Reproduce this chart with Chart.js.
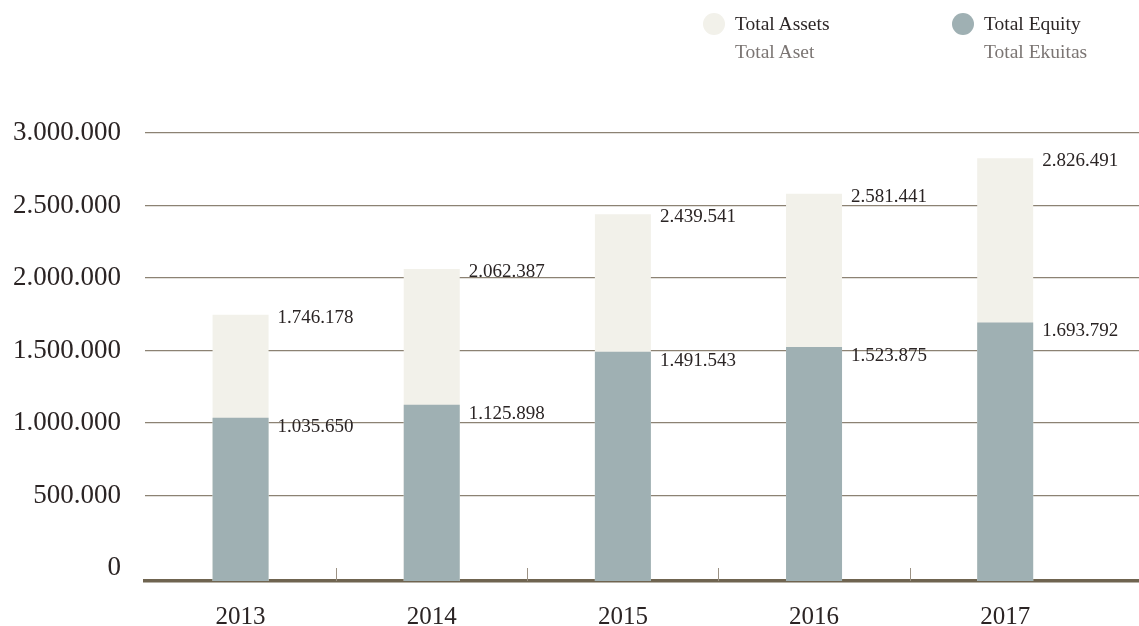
<!DOCTYPE html>
<html>
<head>
<meta charset="utf-8">
<script src="https://cdn.jsdelivr.net/npm/chart.js@4.4.1/dist/chart.umd.min.js"></script>
<style>
    body { margin: 0; background: #fff; }
    #wrap { position: relative; width: 1139px; height: 626px; }
    #legend { position: absolute; top: 0; left: 0; width: 1139px; height: 70px; font-family: 'Liberation Serif', serif; }
    .item { position: absolute; top: 10px; }
    .dot { position: absolute; left: 0; top: 3px; width: 22px; height: 22px; border-radius: 50%; }
    .txt { position: absolute; left: 32px; top: 0; white-space: nowrap; font-size: 19.5px; line-height: 28px; }
    .sub { color: #7b7573; }
    .main { color: #2d2727; }
</style>
</head>
<body>
<div id="wrap">
    <canvas id="chart"></canvas>
    <div id="legend"></div>
</div>
<script>
let years = ['2013', '2014', '2015', '2016', '2017'];
let totalAssets = [1746178, 2062387, 2439541, 2581441, 2826491];
let totalEquity = [1035650, 1125898, 1491543, 1523875, 1693792];
let yTicks = [0, 500000, 1000000, 1500000, 2000000, 2500000, 3000000];
let seriesNames = ['Total Assets', 'Total Equity'];
let seriesSubNames = ['Total Aset', 'Total Ekuitas'];
let seriesColors = ['#f2f1ea', '#9fb0b3'];

let yBottom = -90000;

function fmt(v) {
    return String(v).replace(/\B(?=(\d{3})+(?!\d))/g, '.');
}

// value labels to the right of each bar top
let valueLabels = {
    id: 'valueLabels',
    afterDatasetsDraw(chart) {
        let ctx = chart.ctx;
        let offsets = [3, 9];
        ctx.save();
        ctx.font = '19px "Liberation Serif", serif';
        ctx.fillStyle = '#2a2424';
        ctx.textAlign = 'left';
        ctx.textBaseline = 'middle';
        chart.data.datasets.forEach((ds, di) => {
            let meta = chart.getDatasetMeta(di);
            meta.data.forEach((bar, i) => {
                ctx.fillText(fmt(ds.data[i]), bar.x + bar.width / 2 + 9, bar.y + offsets[di]);
            });
        });
        ctx.restore();
    }
};

// short marks between the years, sitting on the axis line
let dividerTicks = {
    id: 'dividerTicks',
    afterDatasetsDraw(chart) {
        let ctx = chart.ctx;
        let x = chart.scales.x;
        let bottom = chart.chartArea.bottom;
        ctx.save();
        ctx.strokeStyle = '#9c9284';
        ctx.lineWidth = 1;
        for (let i = 0; i < years.length - 1; i++) {
            let px = Math.round((x.getPixelForValue(i) + x.getPixelForValue(i + 1)) / 2) + 0.5;
            ctx.beginPath();
            ctx.moveTo(px, bottom - 13);
            ctx.lineTo(px, bottom);
            ctx.stroke();
        }
        ctx.restore();
    }
};

let chart = new Chart(document.getElementById('chart').getContext('2d'), {
    type: 'bar',
    data: {
        labels: years,
        datasets: [
            { label: seriesNames[0], data: totalAssets, backgroundColor: seriesColors[0], order: 1, base: yBottom },
            { label: seriesNames[1], data: totalEquity, backgroundColor: seriesColors[1], order: 0, base: yBottom }
        ]
    },
    options: {
        responsive: true,
        maintainAspectRatio: false,
        animation: false,
        layout: { padding: { top: 133, right: 0, left: 0, bottom: 0 } },
        datasets: { bar: { categoryPercentage: 1, barPercentage: 0.293 } },
        plugins: {
            legend: { display: false },
            tooltip: { enabled: false }
        },
        scales: {
            x: {
                stacked: true,
                // leave some empty room on the right like the original
                afterBuildTicks: (scale) => { scale._valueRange = years.length + 0.2; },
                afterFit: (scale) => { scale.height = 45; },
                grid: { display: true, drawOnChartArea: false, drawTicks: false },
                border: { display: true, color: '#6f6450', width: 3.5 },
                ticks: {
                    padding: 21,
                    color: '#2b2424',
                    font: { family: 'Liberation Serif', size: 25 }
                }
            },
            y: {
                stacked: false,
                min: yBottom,
                max: 3000000,
                afterBuildTicks: (scale) => { scale.ticks = yTicks.map(v => ({ value: v })); },
                afterFit: (scale) => { scale.width = 145; },
                grid: {
                    drawTicks: false,
                    color: (c) => (c.tick && c.tick.value === 0) ? 'rgba(0,0,0,0)' : '#8c8273',
                    lineWidth: 1.2
                },
                border: { display: false },
                ticks: {
                    padding: 24,
                    color: '#2b2424',
                    font: { family: 'Liberation Serif', size: 27 },
                    callback: (v) => fmt(v)
                }
            }
        }
    },
    plugins: [valueLabels, dividerTicks]
});

// two-line legend built from the datasets
let legend = document.getElementById('legend');
let legendLeft = [703, 952];
chart.data.datasets.forEach((ds, i) => {
    let item = document.createElement('div');
    item.className = 'item';
    item.style.left = legendLeft[i] + 'px';
    item.innerHTML = '<div class="dot" style="background:' + ds.backgroundColor + '"></div>' +
        '<div class="txt"><div class="main">' + ds.label + '</div><div class="sub">' + seriesSubNames[i] + '</div></div>';
    legend.appendChild(item);
});
</script>
</body>
</html>
